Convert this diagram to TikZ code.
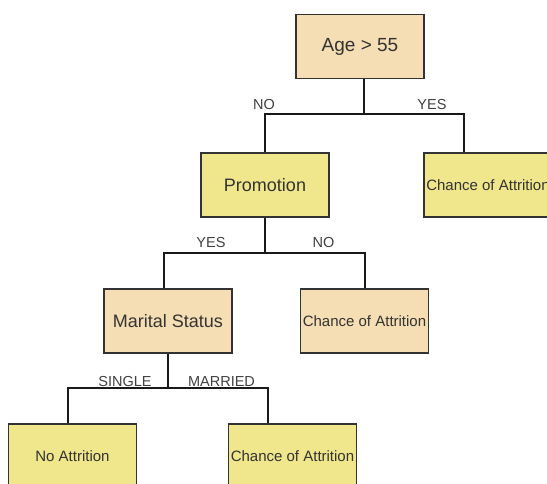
\documentclass[tikz,border=0pt]{standalone}
\usepackage{fontspec}
\setmainfont{Liberation Sans}
\begin{document}
\begin{tikzpicture}[x=1pt,y=-1pt,
  box/.style={draw=black!80, line width=1.1pt, minimum width=128pt, minimum height=64pt,
              inner sep=0pt, text=black!80, align=center},
  decision/.style={box, fill=wheatfill, font=\fontsize{18}{20}\selectfont},
  outcome/.style={box, fill=khakifill, font=\fontsize{15}{17}\selectfont},
  leaf/.style={box, fill=wheatfill, font=\fontsize{15}{17}\selectfont},
  edge/.style={draw=black!90, line width=2pt},
  branch/.style={text=black!75, inner sep=0pt, font=\fontsize{14.5}{16}\selectfont}]
\definecolor{wheatfill}{HTML}{F5DEB3}
\definecolor{khakifill}{HTML}{F0E68C}
\useasboundingbox (0,0) rectangle (547,483);

% decision nodes
\node[decision, font=\fontsize{19}{21}\selectfont] (age) at (360,46.5) {Age > 55};
\node[box, fill=khakifill, font=\fontsize{18}{20}\selectfont] (promo) at (265,185) {Promotion};
\node[decision] (marital) at (168,321) {Marital Status};

% outcomes
\node[outcome] (attr1) at (488,185) {Chance of Attrition};
\node[leaf] (attr2) at (364.5,321) {Chance of Attrition};
\node[outcome] (noattr) at (72.5,456) {No Attrition};
\node[outcome] (attr3) at (292.5,456) {Chance of Attrition};

% junction points of the branches
\coordinate (j1) at (364,114);
\coordinate (j2) at (264.5,253);
\coordinate (j3) at (168,388);

% branches
\draw[edge] (age.south -| j1) -- (j1);
\draw[edge] (promo.north) |- (j1) -| ([xshift=-24pt]attr1.north);
\draw[edge] (promo.south -| j2) -- (j2);
\draw[edge] ([xshift=-4pt]marital.north) |- (j2) -| (attr2.north);
\draw[edge] (marital.south -| j3) -- (j3);
\draw[edge] ([xshift=-4.5pt]noattr.north) |- (j3) -| ([xshift=-24.5pt]attr3.north);

% branch labels
\node[branch] (l1) at (264,105) {NO};
\node[branch] (l2) at (432,105) {YES};
\node[branch] (l3) at (211,243) {YES};
\node[branch] (l4) at (323.5,243) {NO};
\node[branch] (l5) at (125,382) {SINGLE};
\node[branch] (l6) at (221.5,382) {MARRIED};
\end{tikzpicture}
\end{document}
